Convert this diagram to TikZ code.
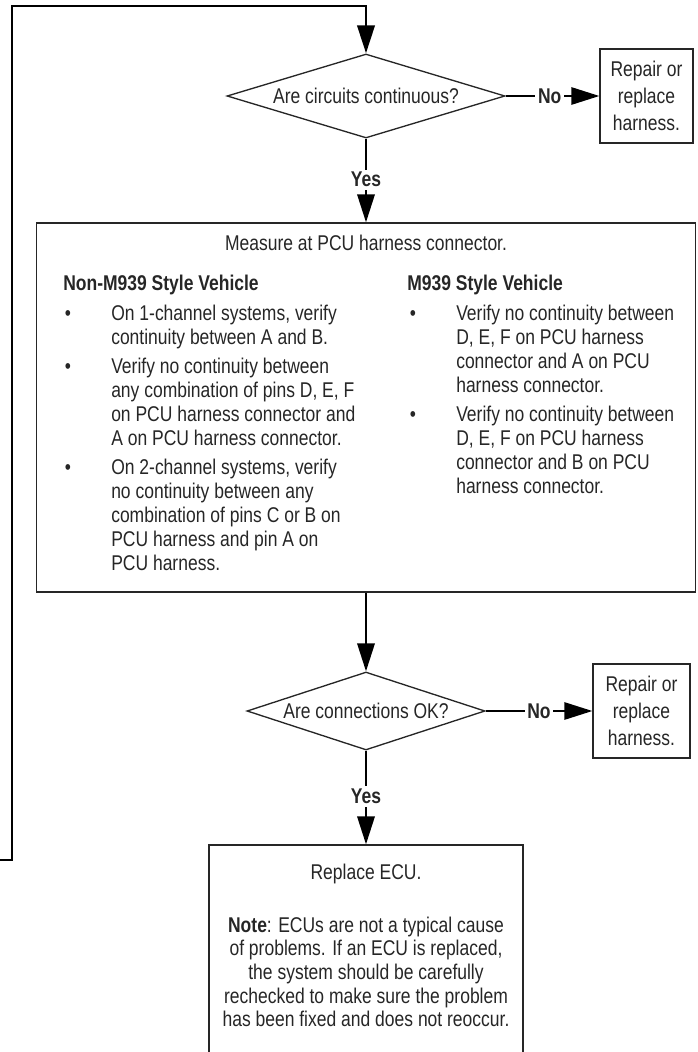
\documentclass[tikz,border=0pt]{standalone}
\usepackage{fontspec}
\setmainfont{Liberation Sans}[FakeStretch=0.82]
\usetikzlibrary{shapes.geometric,arrows.meta}
\begin{document}
\begin{tikzpicture}[x=0.75pt,y=-0.75pt,
  every node/.style={font=\fontsize{16}{18}\selectfont, text=black!85},
  box/.style={draw=black!85, line width=1pt, rectangle, inner sep=0pt},
  dec/.style={draw=black!85, line width=1pt, diamond, aspect=3.3, inner sep=0pt},
  conn/.style={draw=black, line width=1.8pt, -{Triangle[length=21pt,width=13pt]}},
  noconn/.style={draw=black, line width=1.4pt, -{Triangle[length=21pt,width=13pt]}},
  fbline/.style={draw=black, line width=2.2pt, -{Triangle[length=21pt,width=13pt]}},
  lbl/.style={fill=white, inner sep=2pt, font=\fontsize{16}{18}\selectfont\bfseries},
  txt/.style={anchor=base west, inner sep=0pt},
  bul/.style={anchor=base, inner sep=0pt},
  smallbox/.style={box, minimum height=70.5pt, align=center, font=\fontsize{16}{20}\selectfont},
]
\useasboundingbox (0,0) rectangle (698,1052);

% decision 1 and side box
\node[dec, minimum width=208.5pt, minimum height=63pt] (d1) at (366,96) {Are circuits continuous?};
\node[smallbox, minimum width=69.75pt] (r1) at (646.5,96) {Repair or\\replace\\harness.};

% measurement box
\node[box, minimum width=494.25pt, minimum height=276.75pt] (meas) at (366,407.5) {};
\node[anchor=base, inner sep=0pt] (mtitle) at (366,250) {Measure at PCU harness connector.};

% left column
\node[txt] (lhead) at (63,290) {\bfseries Non-M939 Style Vehicle};
\node[bul] (lb1) at (68,320) {\textbullet};
\node[txt] (lt1) at (111,320) {\parbox[t]{220pt}{\fontsize{16}{18}\selectfont\raggedright
  On 1-channel systems, verify\\continuity between A and B.}};
\node[bul] (lb2) at (68,373) {\textbullet};
\node[txt] (lt2) at (111,373) {\parbox[t]{220pt}{\fontsize{16}{18}\selectfont\raggedright
  Verify no continuity between\\any combination of pins D, E, F\\on PCU harness connector and\\A on PCU harness connector.}};
\node[bul] (lb3) at (68,474) {\textbullet};
\node[txt] (lt3) at (111,474) {\parbox[t]{220pt}{\fontsize{16}{18}\selectfont\raggedright
  On 2-channel systems, verify\\no continuity between any\\combination of pins C or B on\\PCU harness and pin A on\\PCU harness.}};

% right column
\node[txt] (rhead) at (407,290) {\bfseries M939 Style Vehicle};
\node[bul] (rb1) at (413,320) {\textbullet};
\node[txt] (rt1) at (456,320) {\parbox[t]{180pt}{\fontsize{16}{18}\selectfont\raggedright
  Verify no continuity between\\D, E, F on PCU harness\\connector and A on PCU\\harness connector.}};
\node[bul] (rb2) at (413,421) {\textbullet};
\node[txt] (rt2) at (456,421) {\parbox[t]{180pt}{\fontsize{16}{18}\selectfont\raggedright
  Verify no continuity between\\D, E, F on PCU harness\\connector and B on PCU\\harness connector.}};

% decision 2 and side box
\node[dec, minimum width=178.5pt, minimum height=58.5pt] (d2) at (366,711) {Are connections OK?};
\node[smallbox, minimum width=72.75pt] (r2) at (641.5,711) {Repair or\\replace\\harness.};

% ECU box
\node[box, minimum width=235.5pt, minimum height=158.25pt] (ecu) at (366,950.5) {};
\node[anchor=base, inner sep=0pt] (ecu1) at (366,879) {Replace ECU.};
\node[anchor=base, inner sep=0pt] (ecu2) at (366,932) {\parbox[t]{232pt}{\fontsize{16}{17.8}\selectfont\centering
  \textbf{Note}: ECUs are not a typical cause\\of problems. If an ECU is replaced,\\the system should be carefully\\rechecked to make sure the problem\\has been fixed and does not reoccur.}};

% connectors
\coordinate (fb0) at (0,860);
\coordinate (fb1) at (12,6);
\draw[fbline] (fb0) -| (fb1) -| (d1.north);
\draw[conn] (d1.south) -- node[lbl, pos=0.49] {Yes} (meas.north);
\draw[noconn] (d1.east) -- node[lbl, pos=0.47] {No} (r1.west);
\draw[conn] (meas.south) -- (d2.north);
\draw[noconn] (d2.east) -- node[lbl, pos=0.5] {No} (r2.west);
\draw[conn] (d2.south) -- node[lbl, pos=0.49] {Yes} (ecu.north);
\end{tikzpicture}
\end{document}
